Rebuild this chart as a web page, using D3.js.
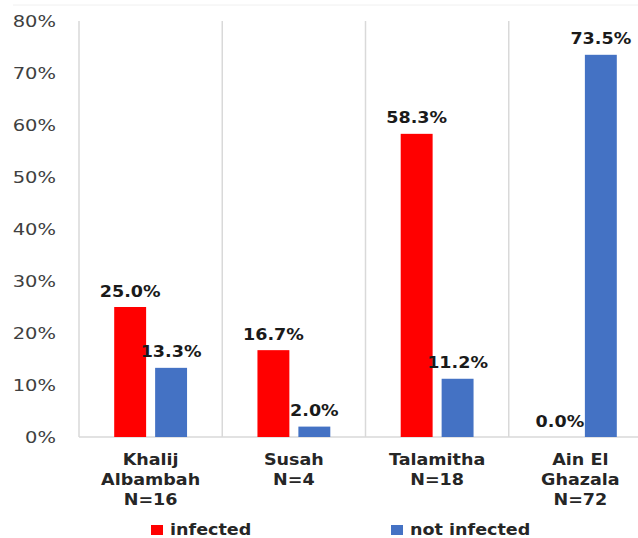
<!DOCTYPE html>
<html>
<head>
<meta charset="utf-8">
<script src="https://cdn.jsdelivr.net/npm/d3@7"></script>
<style>
  html, body { margin: 0; padding: 0; background: #fff; }
  svg { display: block; }
  text { font-family: "DejaVu Sans", Verdana, sans-serif; }
</style>
</head>
<body>
<svg id="chart" width="638" height="538"></svg>
<script>
// Data
const categories = [
  ["Khalij", "Albambah", "N=16"],
  ["Susah", "N=4"],
  ["Talamitha", "N=18"],
  ["Ain El", "Ghazala", "N=72"]
];
const seriesNames = ["infected", "not infected"];
const infected = [25.0, 16.7, 58.3, 0.0];
const notInfected = [13.3, 2.0, 11.2, 73.5];
const yTicks = [0, 10, 20, 30, 40, 50, 60, 70, 80];
const colors = ["#FF0000", "#4472C4"];

const svg = d3.select("#chart");
const W = 638, H = 538;
const plotLeft = 79, plotRight = 652, plotTop = 21, plotBottom = 437;
const SX = 1.17; // horizontal stretch of the lettering

const x0 = d3.scaleBand().domain(d3.range(categories.length)).range([plotLeft, plotRight]).padding(0);
const x1 = d3.scaleBand().domain(seriesNames).range([0, x0.bandwidth()])
  .paddingInner(0.22).paddingOuter(0.86);
const y = d3.scaleLinear().domain([0, 80]).range([plotBottom, plotTop]);

function label(g, x, yy, str, opts) {
  return g.append("text")
    .attr("transform", `translate(${x},${yy}) scale(${opts.sx || SX},1)`)
    .attr("text-anchor", opts.anchor || "middle")
    .attr("font-size", opts.size || 15)
    .attr("font-weight", opts.weight || "normal")
    .attr("fill", opts.fill || "#262626")
    .text(str);
}

// faint outer frame line
svg.append("line").attr("x1", 13).attr("x2", W).attr("y1", 5).attr("y2", 5)
  .attr("stroke", "#f0f0f0").attr("stroke-width", 1);

// category separators
const sepG = svg.append("g");
const seps = d3.range(categories.length + 1).map(i => plotLeft + i * x0.step());
sepG.selectAll("line").data(seps).join("line")
  .attr("x1", d => d).attr("x2", d => d)
  .attr("y1", y(80)).attr("y2", y(0))
  .attr("stroke", "#d9d9d9").attr("stroke-width", 1.5);

// baseline
svg.append("line").attr("x1", plotLeft).attr("x2", plotRight)
  .attr("y1", y(0)).attr("y2", y(0))
  .attr("stroke", "#d9d9d9").attr("stroke-width", 1.5);

// y axis labels
const yAxis = d3.axisLeft(y).tickValues(yTicks).tickFormat(d => d + "%").tickSize(0);
const yg = svg.append("g").attr("transform", `translate(${plotLeft},0)`).call(yAxis);
yg.select(".domain").remove();
yg.selectAll(".tick text").remove();
yg.selectAll(".tick").each(function(d) {
  label(d3.select(this), -23, 5.5, d + "%", { anchor: "end", size: 15, sx: 1.3, fill: "#404040" });
});

// bars
const series = [infected, notInfected];
const groups = svg.append("g").selectAll("g").data(categories).join("g")
  .attr("transform", (d, i) => `translate(${x0(i)},0)`);

groups.each(function(cat, i) {
  const g = d3.select(this);
  seriesNames.forEach((s, k) => {
    const v = series[k][i];
    g.append("rect")
      .attr("x", x1(s)).attr("width", x1.bandwidth())
      .attr("y", y(v)).attr("height", y(0) - y(v))
      .attr("fill", colors[k]);
    label(g, x1(s) + x1.bandwidth() / 2, y(v) - 10.5, v.toFixed(1) + "%",
      { size: 15, weight: "bold", fill: "#1a1a1a" });
  });
  // category label lines
  cat.forEach((line, j) => {
    label(g, x0.bandwidth() / 2, 465 + j * 20, line, { size: 15, weight: "bold", fill: "#262626" });
  });
});

// legend
const legendX = [151, 391];
const leg = svg.append("g");
seriesNames.forEach((s, k) => {
  leg.append("rect").attr("x", legendX[k]).attr("y", 525)
    .attr("width", 12).attr("height", 10).attr("fill", colors[k]);
  label(leg, legendX[k] + 19, 535, s, { anchor: "start", size: 15, weight: "bold", fill: "#262626" });
});
</script>
</body>
</html>
